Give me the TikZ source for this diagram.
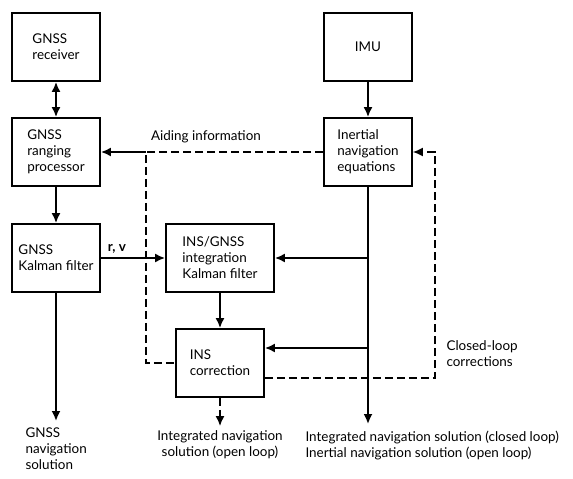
\documentclass[tikz,border=0pt]{standalone}
\usepackage{fontspec}
\setmainfont{Lato}
\usepackage{tikz}
\usetikzlibrary{shapes,arrows,arrows.meta}
\usetikzlibrary{positioning}
\usetikzlibrary{calc}
\tikzstyle{block} = [draw, rectangle, line width=1.8bp, align=left,
minimum width=88bp, minimum height=68bp, inner sep=2bp]
\tikzstyle{line} = [draw, line width=1.8bp, -{Latex[length=10bp,width=9bp]}]
\tikzstyle{dline} = [draw, line width=1.4bp, dash pattern=on 8bp off 4bp]

\begin{document}
\begin{tikzpicture}[x=1bp, y=-1bp, font=\fontsize{13.5}{16}\selectfont]
	\useasboundingbox (0,0) rectangle (573,479);
	\node [block] at (56,47) (rec) {GNSS\\receiver};
	\node [block] at (56,152) (rng) {GNSS\\ranging\\processor};
	\node [block] at (56,258) (gkf) {GNSS\\Kalman filter};
	\node [block] at (368,47) (imu) {IMU};
	\node [block] at (368,152) (ine) {Inertial\\navigation\\equations};
	\node [block, minimum width=108bp] at (220,258) (ikf) {INS/GNSS\\integration\\Kalman filter};
	\node [block] at (220,363) (cor) {INS\\correction};
    % Outputs and corners
    \coordinate (gout) at (56,421);
    \coordinate (iout) at (368,424);
    \coordinate (cout) at (220,426);
    \coordinate (aidL) at (146,152);
    \coordinate (loopR) at (435,152);
    \coordinate (corIn) at ([yshift=15bp]cor.east);
    \coordinate (corOut) at ([yshift=-15bp]cor.east);
    % Labels
    \node at (206,137) (aidText) {Aiding information};
    \node [anchor=west, align=left] at (443,354) (loopText) {Closed-loop\\corrections};
    \node [anchor=north west, align=left] at (22,424) (gText) {GNSS\\navigation\\solution};
    \node [anchor=north, align=center] at (220,427) (oText) {Integrated navigation\\solution (open loop)};
    \node [anchor=north west, align=left] at (302,428) (iText) {Integrated navigation solution (closed loop)\\Inertial navigation solution (open loop)};
	%% Flows
    % GNSS side
    \path [line, {Latex[length=10bp,width=9bp]}-{Latex[length=10bp,width=9bp]}] (rec) -- (rng);
    \path [line] (rng) -- (gkf);
    \path [line] (gkf) -- (gout);
    \path [line] (gkf) to node [pos=0.25, above] (rvText) {\textbf{r, v}} (ikf);
    % Inertial side
    \path [line] (imu) -- (ine);
    \path [line] (ine) -- (iout);
    \path [line] (ine.south |- ikf.east) -- (ikf.east);
    \path [line] (ine.south |- corIn) -- (corIn);
    \path [line] (ikf) -- (cor);
    % Aiding and corrections
    \path [dline] (ine.west) -- (aidL) |- (cor.west);
    \path [line] (aidL) -- (rng.east);
    \path [dline, -{Latex[length=10bp,width=9bp]}] (corOut) -| (loopR) -- (ine.east);
    \path [dline, -{Latex[length=10bp,width=9bp]}] (cor) -- (cout);
\end{tikzpicture}
\end{document}
